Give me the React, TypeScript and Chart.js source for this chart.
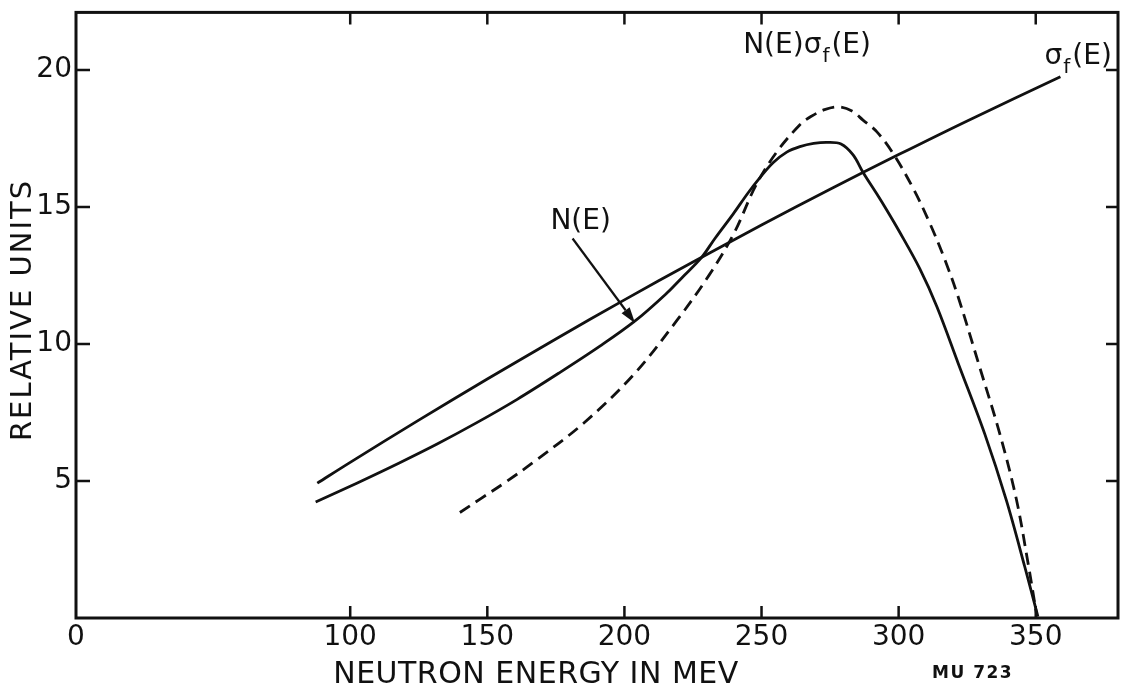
import React, { useEffect, useRef } from "react";
import { Chart, registerables } from "chart.js";

Chart.register(...registerables);

// ---- data read from the plate ----
const xTickValues = [0, 100, 150, 200, 250, 300, 350];
const yTickValues = [5, 10, 15, 20];
const frameTickX = [100, 150, 200, 250, 300, 350];

// sigma_f(E)
const sigmaEnergy = [88, 100, 125, 150, 175, 200, 225, 250, 275, 300, 325, 359];
const sigmaValue = [4.92, 5.68, 7.22, 8.72, 10.18, 11.61, 12.99, 14.34, 15.65, 16.91, 18.14, 19.75];

// N(E)
const nEnergy = [87.4, 102.6, 117.7, 131.7, 146, 160.9, 176, 191.2, 204, 215.4, 221, 228, 233, 239.7, 245, 249.5, 254.3, 259.2, 264, 269, 274, 279, 283.4, 287.1, 291.9, 295.6, 300, 307.7, 314, 321.7, 331.4, 339.3, 346, 350.8];
const nValue = [4.23, 4.93, 5.65, 6.35, 7.12, 7.98, 8.93, 9.93, 10.85, 11.85, 12.42, 13.14, 13.85, 14.75, 15.5, 16.08, 16.62, 17.0, 17.2, 17.32, 17.36, 17.3, 16.9, 16.25, 15.5, 14.9, 14.15, 12.75, 11.35, 9.3, 6.72, 4.29, 1.87, 0.05];

// N(E) sigma_f(E)
const prodEnergy = [140, 147.5, 157, 167, 185, 203, 219, 231, 240, 248, 255.5, 264, 268, 273, 278, 283, 287, 292, 298, 305.3, 311.4, 316.8, 321.6, 329.6, 336.9, 342.9, 347.2, 350.2];
const prodValue = [3.85, 4.35, 4.98, 5.7, 7.1, 8.84, 10.84, 12.53, 14.05, 15.8, 17.0, 18.0, 18.3, 18.55, 18.65, 18.5, 18.17, 17.75, 16.95, 15.68, 14.4, 13.09, 11.75, 9.14, 6.72, 4.35, 2.0, 0.2];

// annotation anchors (data units)
const nLabelAt = { x: 173, y: 14.47 };
const nArrowFrom = { x: 181.1, y: 13.85 };
const nArrowTo = { x: 203.9, y: 10.76 };
const prodLabelAt = { x: 243.3, y: 20.87 };
const sigmaLabelAt = { x: 353.2, y: 20.47 };

const xTitle = "NEUTRON ENERGY IN MEV";
const yTitle = "RELATIVE UNITS";
const plateCode = "MU 723";

const INK = "#111111";
const FONT = '"DejaVu Sans", "Liberation Sans", sans-serif';

const toPoints = (xs: number[], ys: number[]) => xs.map((x, i) => ({ x, y: ys[i] }));

function drawSigmaLabel(ctx: CanvasRenderingContext2D, prefix: string, x: number, y: number) {
  ctx.textAlign = "left";
  ctx.textBaseline = "middle";
  ctx.font = `28px ${FONT}`;
  let cx = x;
  const head = prefix + "σ";
  ctx.fillText(head, cx, y);
  cx += ctx.measureText(head).width;
  ctx.font = `20px ${FONT}`;
  ctx.fillText("f", cx + 1, y + 11);
  cx += ctx.measureText("f").width + 3;
  ctx.font = `28px ${FONT}`;
  ctx.fillText("(E)", cx, y);
}

const platePlugin = {
  id: "plateAnnotations",
  afterDraw(chart: any) {
    const { ctx, chartArea, scales } = chart;
    const { left, right, top, bottom } = chartArea;
    const xs = scales.x;
    const ys = scales.y;
    const px = (v: number) => xs.getPixelForValue(v);
    const py = (v: number) => ys.getPixelForValue(v);
    ctx.save();
    ctx.strokeStyle = INK;
    ctx.fillStyle = INK;

    // frame
    ctx.lineWidth = 3;
    ctx.strokeRect(left, top, right - left, bottom - top);

    // inward ticks on all four sides
    ctx.lineWidth = 2.5;
    ctx.beginPath();
    frameTickX.forEach((v) => {
      const X = px(v);
      ctx.moveTo(X, bottom);
      ctx.lineTo(X, bottom - 12);
      ctx.moveTo(X, top);
      ctx.lineTo(X, top + 12);
    });
    yTickValues.forEach((v) => {
      const Y = py(v);
      ctx.moveTo(left, Y);
      ctx.lineTo(left + 14, Y);
      ctx.moveTo(right, Y);
      ctx.lineTo(right - 12, Y);
    });
    ctx.stroke();

    // N(E) label and arrow
    ctx.font = `28px ${FONT}`;
    ctx.textAlign = "left";
    ctx.textBaseline = "middle";
    ctx.fillText("N(E)", px(nLabelAt.x), py(nLabelAt.y));
    const ax0 = px(nArrowFrom.x), ay0 = py(nArrowFrom.y);
    const ax1 = px(nArrowTo.x), ay1 = py(nArrowTo.y);
    const ang = Math.atan2(ay1 - ay0, ax1 - ax0);
    const headLen = 16, headHalf = 5;
    ctx.lineWidth = 2.2;
    ctx.beginPath();
    ctx.moveTo(ax0, ay0);
    ctx.lineTo(ax1 - headLen * Math.cos(ang), ay1 - headLen * Math.sin(ang));
    ctx.stroke();
    ctx.beginPath();
    ctx.moveTo(ax1, ay1);
    ctx.lineTo(ax1 - headLen * Math.cos(ang) + headHalf * Math.sin(ang), ay1 - headLen * Math.sin(ang) - headHalf * Math.cos(ang));
    ctx.lineTo(ax1 - headLen * Math.cos(ang) - headHalf * Math.sin(ang), ay1 - headLen * Math.sin(ang) + headHalf * Math.cos(ang));
    ctx.closePath();
    ctx.fill();

    // curve labels
    drawSigmaLabel(ctx, "N(E)", px(prodLabelAt.x), py(prodLabelAt.y));
    drawSigmaLabel(ctx, "", px(sigmaLabelAt.x), py(sigmaLabelAt.y));

    // axis titles
    ctx.textAlign = "center";
    ctx.textBaseline = "middle";
    ctx.font = `30px ${FONT}`;
    (ctx as any).letterSpacing = "0.5px";
    ctx.fillText(xTitle, 536, 675);
    ctx.save();
    ctx.translate(23, 310);
    ctx.rotate(-Math.PI / 2);
    ctx.font = `29px ${FONT}`;
    (ctx as any).letterSpacing = "2px";
    ctx.fillText(yTitle, 0, 0);
    ctx.restore();

    // plate code
    ctx.font = `bold 17px ${FONT}`;
    (ctx as any).letterSpacing = "1.5px";
    ctx.textAlign = "left";
    ctx.fillText(plateCode, 932, 674);
    (ctx as any).letterSpacing = "0px";
    ctx.restore();
  },
};

export default function App() {
  const canvasRef = useRef<HTMLCanvasElement | null>(null);

  useEffect(() => {
    const canvas = canvasRef.current;
    if (!canvas) return;
    const lineStyle = {
      borderColor: INK,
      borderWidth: 2.8,
      pointRadius: 0,
      fill: false,
      tension: 0.35,
    };
    const chart = new Chart(canvas, {
      type: "line",
      data: {
        datasets: [
          { label: "σf(E)", data: toPoints(sigmaEnergy, sigmaValue), ...lineStyle },
          { label: "N(E)", data: toPoints(nEnergy, nValue), ...lineStyle },
          { label: "N(E)σf(E)", data: toPoints(prodEnergy, prodValue), ...lineStyle, borderDash: [12, 7] },
        ],
      },
      options: {
        animation: false,
        responsive: false,
        devicePixelRatio: 1,
        layout: { padding: { left: 0, right: 3, top: 10, bottom: 0 } },
        plugins: { legend: { display: false }, tooltip: { enabled: false } },
        scales: {
          x: {
            type: "linear",
            min: 0,
            max: 380,
            grid: { display: false, drawTicks: false, tickLength: 0 },
            border: { display: false },
            ticks: {
              color: INK,
              font: { family: FONT, size: 28, lineHeight: 1 },
              padding: 6,
              maxRotation: 0,
              autoSkip: false,
              callback: (v: any) => String(v),
            },
            afterBuildTicks: (s: any) => {
              s.ticks = xTickValues.map((v) => ({ value: v }));
            },
            afterFit: (s: any) => {
              s.height = 78;
            },
          },
          y: {
            type: "linear",
            min: 0,
            max: 22.1,
            grid: { display: false, drawTicks: false, tickLength: 0 },
            border: { display: false },
            ticks: {
              color: INK,
              font: { family: FONT, size: 28, lineHeight: 0.6 },
              padding: 4,
              callback: (v: any) => String(v),
            },
            afterBuildTicks: (s: any) => {
              s.ticks = yTickValues.map((v) => ({ value: v }));
            },
            afterFit: (s: any) => {
              s.width = 76;
            },
          },
        },
      },
      plugins: [platePlugin],
    });
    return () => chart.destroy();
  }, []);

  return (
    <div style={{ position: "fixed", left: 0, top: 0, width: 1121, height: 696, background: "#fff" }}>
      <canvas ref={canvasRef} width={1121} height={696} style={{ display: "block" }} />
    </div>
  );
}
